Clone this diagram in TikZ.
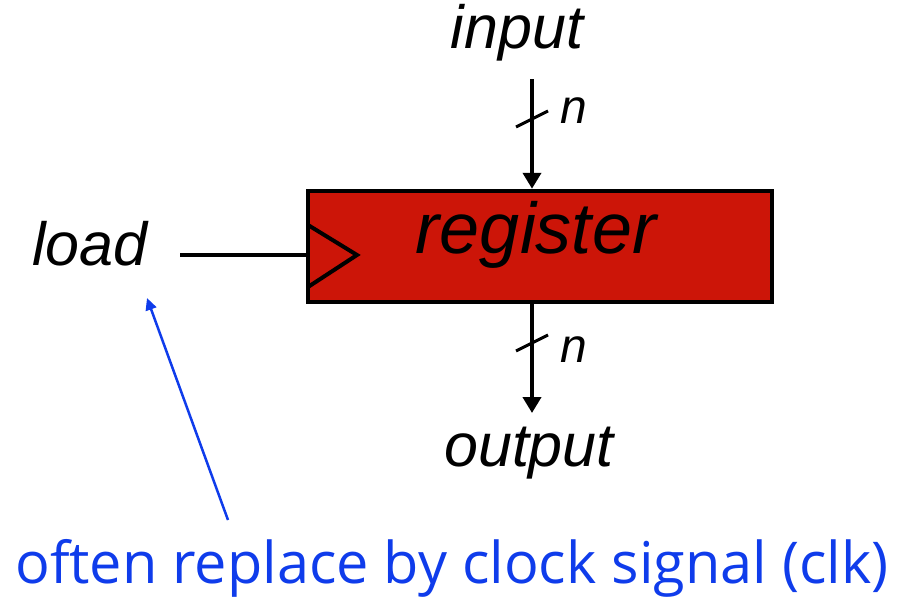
\documentclass[tikz,border=0pt]{standalone}
\usepackage{fontspec}
\setmainfont{Liberation Sans}
\newfontfamily\notefont{Open Sans}
\usepackage{xcolor}
\usepackage{tikz}
\usetikzlibrary{arrows.meta, positioning, calc}
\definecolor{regred}{RGB}{204,21,8}
\definecolor{noteblue}{RGB}{15,60,235}

\begin{document}
\begin{tikzpicture}[x=1pt, y=-1pt,
    lbl/.style={inner sep=0pt, anchor=base, font=\fontsize{61}{61}\selectfont\itshape},
    buslbl/.style={inner sep=0pt, anchor=base, font=\fontsize{48}{48}\selectfont\itshape},
    wire/.style={line width=4pt},
    bus/.style={line width=4pt, -{Triangle[length=16pt, width=18pt]}}]
    \useasboundingbox (0,0) rectangle (905,597);

    % register block
    \node[draw, line width=4.5pt, fill=regred, minimum width=464pt, minimum height=111pt,
          inner sep=0pt] (reg) at (540,246.5) {};
    \node[inner sep=0pt, anchor=base, font=\fontsize{72}{72}\selectfont\itshape] (reglbl) at (536,253) {register};

    % clock input
    \coordinate (clk) at (308,255);
    \draw[wire, line join=miter] ($(clk)+(0,-30)$) -- ($(clk)+(49,0)$) -- ($(clk)+(0,32)$);
    \node[lbl] (loadlbl) at (90,265) {load};
    \coordinate (loadend) at (180,255);
    \draw[wire] (loadend) -- (clk);

    % data in
    \node[lbl] (inlbl) at (517,48) {input};
    \coordinate (intop) at (532,79);
    \draw[bus] (intop) -- (reg.north -| intop);
    \draw[line width=3pt] (516,127) -- (548,111);
    \node[buslbl] (inn) at (574,123) {n};

    % data out
    \coordinate (outtip) at (532,413);
    \draw[bus] (reg.south -| outtip) -- (outtip);
    \draw[line width=3pt] (516,351) -- (548,335);
    \node[buslbl] (outn) at (574,362) {n};
    \node[lbl] (outlbl) at (529,466) {output};

    % note
    \node[inner sep=0pt, anchor=base west, text=noteblue] (note) at (15,583)
        {\resizebox{873pt}{!}{\notefont often replace by clock signal (clk)}};
    \coordinate (notetail) at (228,520);
    \coordinate (loadpt) at (147,298);
    \draw[noteblue, line width=2.5pt, -{Triangle[length=12pt, width=11pt]}] (notetail) -- (loadpt);
\end{tikzpicture}
\end{document}
